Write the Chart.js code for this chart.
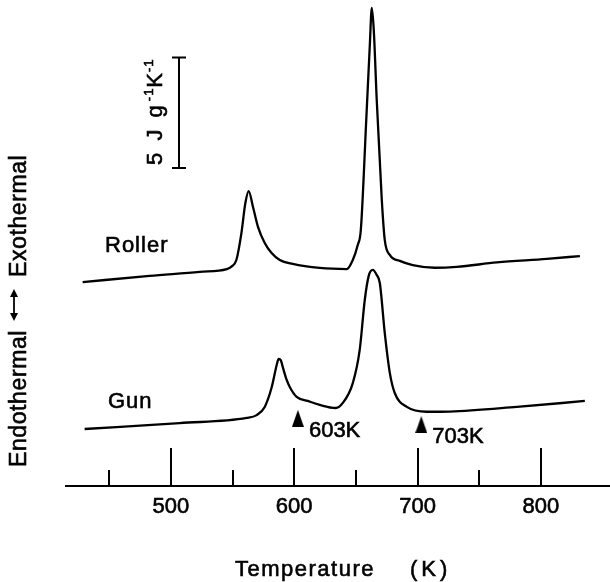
<!DOCTYPE html>
<html>
<head>
<meta charset="utf-8">
<title>DSC traces</title>
<script src="https://cdn.jsdelivr.net/npm/chart.js@4.4.1/dist/chart.umd.min.js"></script>
<style>
  html, body { margin: 0; padding: 0; background: #fff; }
  #wrap { width: 610px; height: 582px; }
</style>
</head>
<body>
<div id="wrap"><canvas id="dsc" width="610" height="582"></canvas></div>
<script>
// Heat flow (J g^-1 K^-1, arbitrary zero) against temperature (K)
const rollerTemp = [428.5, 482.8, 523.4, 545.3, 549.1, 553.1, 557.2, 560.4, 563.1, 566.6, 570.7, 576.1,
    581.5, 588.3, 598.8, 620.7, 642.6, 647.5, 651.5, 654.0, 658.4, 661.3, 662.9, 664.5, 666.9, 671.0,
    673.4, 677.5, 685.6, 696.1, 714.0, 731.8, 764.3, 804.8, 831.6];
const rollerHeat = [9.23, 9.51, 9.69, 9.82, 9.93, 10.23, 11.45, 12.81, 13.35, 12.63, 11.72, 11.0,
    10.56, 10.23, 10.05, 9.87, 9.82, 10.23, 10.91, 11.59, 16.57, 19.96, 21.64, 20.64, 17.47, 12.95,
    11.14, 10.46, 10.19, 10.0, 9.88, 9.92, 10.12, 10.28, 10.41];

const gunTemp = [430.1, 507.1, 561.5, 569.6, 576.1, 581.8, 585.8, 587.4, 589.1, 590.7, 593.9, 596.4,
    602.0, 611.0, 620.7, 633.7, 639.4, 647.5, 653.1, 657.2, 660.4, 663.7, 666.9, 669.4, 673.4, 677.5,
    681.5, 691.3, 707.5, 726.1, 780.5, 835.6];
const gunHeat = [2.58, 2.85, 3.08, 3.21, 3.58, 4.48, 5.48, 5.75, 5.70, 5.39, 4.80, 4.48,
    4.03, 3.85, 3.67, 3.53, 3.76, 4.66, 6.16, 8.42, 9.51, 9.78, 9.55, 9.19, 6.93, 5.12,
    4.21, 3.58, 3.36, 3.37, 3.58, 3.85];

// Temperatures flagged under the Gun trace
const markerTemp = [603, 703];
const markerHeat = [3.06, 2.78];
const markerLabels = ['603K', '703K'];

// Temperature axis
const tickValues = [450, 500, 550, 600, 650, 700, 750, 800];
const tickLabels = ['', '500', '', '600', '', '700', '', '800'];

// 5 J g^-1 K^-1 scale bar
const barSpan = 5;
const barBase = 14.4;

const FONT = "'Liberation Sans', Arial, sans-serif";
const INK = 0.6;   // extra stroke so lettering matches the heavy print
Chart.defaults.font.family = FONT;
Chart.defaults.color = '#000';

function toPoints(xs, ys) {
    return xs.map((x, i) => ({ x: x, y: ys[i] }));
}

// narrow filled triangle used for the temperature markers
function makeTriangle() {
    const c = document.createElement('canvas');
    c.width = 12;
    c.height = 17;
    const g = c.getContext('2d');
    g.fillStyle = '#000';
    g.beginPath();
    g.moveTo(6, 0);
    g.lineTo(12, 17);
    g.lineTo(0, 17);
    g.closePath();
    g.fill();
    return c;
}

// draws text on the alphabetic baseline, returns the advance
function text(ctx, str, x, y, size, spacing, align) {
    ctx.font = size + 'px ' + FONT;
    ctx.letterSpacing = spacing + 'px';
    ctx.textAlign = align || 'left';
    ctx.textBaseline = 'alphabetic';
    ctx.fillText(str, x, y);
    ctx.save();
    ctx.lineWidth = INK;
    ctx.strokeText(str, x, y);
    ctx.restore();
    return ctx.measureText(str).width;
}

const decor = {
    id: 'decor',
    afterDraw(chart) {
        const ctx = chart.ctx;
        const xs = chart.scales.x;
        const ys = chart.scales.y;
        const bottom = chart.chartArea.bottom;
        ctx.save();
        ctx.fillStyle = '#000';
        ctx.strokeStyle = '#000';
        ctx.lineWidth = 2;

        // tick marks stand up from the axis line
        xs.ticks.forEach((t, i) => {
            const px = Math.round(xs.getPixelForValue(t.value));
            const len = tickLabels[i] ? 38 : 16;
            ctx.beginPath();
            ctx.moveTo(px, bottom);
            ctx.lineTo(px, bottom - len);
            ctx.stroke();
        });

        // scale bar
        const bx = Math.round(xs.getPixelForValue(507));
        const by0 = ys.getPixelForValue(barBase);
        const by1 = ys.getPixelForValue(barBase + barSpan);
        ctx.beginPath();
        ctx.moveTo(bx, by0);
        ctx.lineTo(bx, by1);
        ctx.moveTo(bx - 7, by0);
        ctx.lineTo(bx + 7, by0);
        ctx.moveTo(bx - 7, by1);
        ctx.lineTo(bx + 7, by1);
        ctx.stroke();

        ctx.save();
        ctx.translate(162, by0 - 3);
        ctx.rotate(-Math.PI / 2);
        let run = 0;
        run += text(ctx, '5 J g', run, 0, 22, 3);
        run += text(ctx, '-1', run + 1, -9, 13, 1) + 1;
        run += text(ctx, 'K', run, 0, 22, 1);
        text(ctx, '-1', run, -9, 13, 1);
        ctx.restore();

        // trace names
        text(ctx, 'Roller', 105, 252, 22, 1);
        text(ctx, 'Gun', 108, 408, 22, 1);

        // marker labels
        markerLabels.forEach((lab, i) => {
            const px = xs.getPixelForValue(markerTemp[i]);
            const py = ys.getPixelForValue(markerHeat[i]);
            text(ctx, lab, px + 11, py + 18.5, 22, 0);
        });

        // axis title
        text(ctx, 'Temperature', 235, 576, 22, 1.5);
        text(ctx, '(K)', 410, 576, 22, 4);

        // vertical label with a double-headed arrow between the words
        ctx.save();
        ctx.translate(26, 467);
        ctx.rotate(-Math.PI / 2);
        text(ctx, 'Endothermal', 0, 0, 23, 0.6);
        text(ctx, 'Exothermal', 190, 0, 23, 0.6);
        ctx.lineWidth = 1.8;
        ctx.beginPath();
        ctx.moveTo(149, -12);
        ctx.lineTo(175, -12);
        ctx.stroke();
        ctx.beginPath();
        ctx.moveTo(146, -12);
        ctx.lineTo(154, -16);
        ctx.lineTo(154, -8);
        ctx.closePath();
        ctx.moveTo(178, -12);
        ctx.lineTo(170, -16);
        ctx.lineTo(170, -8);
        ctx.closePath();
        ctx.fill();
        ctx.restore();

        ctx.restore();
    }
};

new Chart(document.getElementById('dsc'), {
    type: 'line',
    data: {
        datasets: [
            {
                label: 'Roller',
                data: toPoints(rollerTemp, rollerHeat),
                borderColor: '#000',
                borderWidth: 2.3,
                pointRadius: 0,
                cubicInterpolationMode: 'monotone'
            },
            {
                label: 'Gun',
                data: toPoints(gunTemp, gunHeat),
                borderColor: '#000',
                borderWidth: 2.3,
                pointRadius: 0,
                cubicInterpolationMode: 'monotone'
            },
            {
                label: 'Markers',
                data: toPoints(markerTemp, markerHeat),
                showLine: false,
                pointStyle: makeTriangle(),
                pointRadius: 8
            }
        ]
    },
    options: {
        responsive: false,
        animation: false,
        devicePixelRatio: 1,
        layout: { autoPadding: false, padding: { left: 66, right: 0, top: 0, bottom: 0 } },
        plugins: {
            legend: { display: false },
            tooltip: { enabled: false }
        },
        scales: {
            x: {
                type: 'linear',
                min: 415,
                max: 856,
                afterBuildTicks: s => { s.ticks = tickValues.map(v => ({ value: v })); },
                afterFit: s => {
                    s.height = 96;
                    s.paddingLeft = 0;
                    s.paddingRight = 0;
                },
                grid: { display: true, drawOnChartArea: false, drawTicks: false },
                border: { display: true, color: '#000', width: 2 },
                ticks: {
                    autoSkip: false,
                    maxRotation: 0,
                    padding: 8,
                    color: '#000',
                    textStrokeColor: '#000',
                    textStrokeWidth: INK,
                    font: { size: 22 },
                    callback: (v, i) => tickLabels[i]
                }
            },
            y: {
                display: false,
                min: 0,
                max: 22
            }
        }
    },
    plugins: [decor]
});
</script>
</body>
</html>
